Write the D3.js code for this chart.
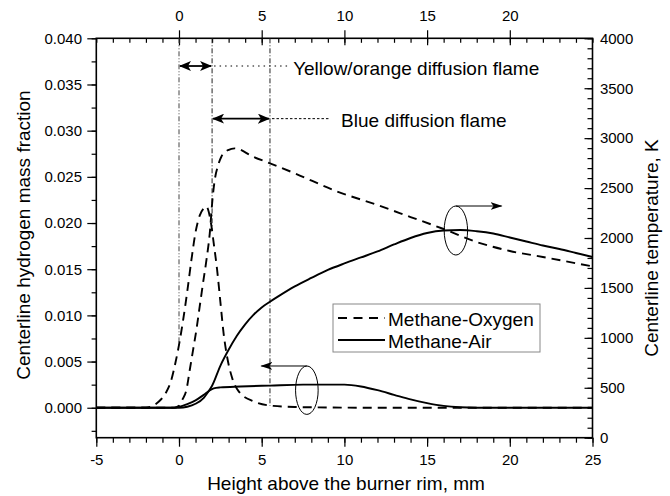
<!DOCTYPE html>
<html>
<head>
<meta charset="utf-8">
<script src="https://cdn.jsdelivr.net/npm/d3@7"></script>
<style>
  body { margin: 0; background: #fff; }
  svg text { font-family: "Liberation Sans", Arial, sans-serif; fill: #000; }
</style>
</head>
<body>
<svg id="chart" width="670" height="496"></svg>
<script>
// Methane-Oxygen, hydrogen mass fraction (left axis)
var xH2Oxy = [-5, -2, -1.6, -1.2, -0.8, -0.5, -0.2, 0, 0.25, 0.5, 0.75, 1.0, 1.25, 1.5, 1.65, 1.8, 1.95, 2.1, 2.3, 2.5, 2.7, 2.9, 3.2, 3.6, 4.5, 5.7, 7, 9, 12, 25];
var h2Oxy  = [0, 0, 0.0002, 0.0007, 0.0016, 0.0028, 0.0050, 0.0068, 0.0095, 0.0126, 0.0160, 0.0190, 0.0208, 0.0216, 0.0218, 0.0212, 0.0198, 0.0178, 0.0150, 0.0115, 0.0080, 0.0056, 0.0033, 0.0018, 0.0007, 0.0002, 0.00008, 0.00003, 0, 0];
// Methane-Oxygen, temperature (right axis, K)
var xTOxy = [-5, -0.3, 0, 0.2, 0.45, 0.65, 0.85, 1.05, 1.25, 1.45, 1.66, 1.86, 2.02, 2.16, 2.35, 2.56, 2.97, 3.37, 4.48, 5.5, 7, 9.5, 12, 14, 16, 18, 20, 22, 25];
var tOxy  = [300, 300, 320, 380, 480, 678, 878, 1079, 1312, 1546, 1780, 2047, 2380, 2580, 2720, 2814, 2881, 2898, 2814, 2748, 2648, 2470, 2330, 2210, 2090, 1960, 1870, 1810, 1715];
// Methane-Air, hydrogen mass fraction
var xH2Air = [-5, -0.5, 0, 0.5, 1, 1.5, 1.8, 2.1, 2.5, 3.7, 5.5, 7.5, 9, 10, 11, 12, 13, 14, 15, 16, 17, 18, 25];
var h2Air  = [0, 0, 0.0001, 0.0004, 0.0008, 0.0014, 0.0018, 0.0021, 0.0022, 0.0023, 0.0024, 0.0025, 0.0025, 0.0025, 0.0023, 0.0019, 0.0014, 0.0009, 0.0005, 0.0002, 0.00005, 0, 0];
// Methane-Air, temperature
var xTAir = [-5, 0, 0.5, 1, 1.5, 1.75, 2, 2.5, 3, 3.5, 4, 4.5, 5, 5.5, 6, 7, 8, 9, 10, 11, 12, 13, 14, 15, 16, 17, 18, 19, 20, 21, 22, 23, 24, 25];
var tAir  = [300, 300, 310, 340, 400, 455, 520, 720, 880, 1020, 1135, 1230, 1305, 1362, 1415, 1515, 1600, 1680, 1745, 1805, 1865, 1935, 2000, 2050, 2075, 2080, 2068, 2045, 2005, 1965, 1925, 1890, 1850, 1810];

var xTicks = [-5, 0, 5, 10, 15, 20, 25];
var xTopTicks = [0, 5, 10, 15, 20];
var h2Ticks = [0, 0.005, 0.01, 0.015, 0.02, 0.025, 0.03, 0.035, 0.04];
var tTicks = [0, 500, 1000, 1500, 2000, 2500, 3000, 3500, 4000];
var seriesNames = ["Methane-Oxygen", "Methane-Air"];

var svg = d3.select("#chart");
var pLeft = 96.3, pRight = 592.5, pTop = 38.3, pBottom = 437.7;

var x = d3.scaleLinear().domain([-5, 25]).range([pLeft, pRight]);
var yT = d3.scaleLinear().domain([0, 4000]).range([pBottom, pTop]);
// left axis: 0.000 lines up with 300 K
var yH = d3.scaleLinear().domain([-0.04 * 300 / 3700, 0.04]).range([pBottom, pTop]);

var defs = svg.append("defs");
defs.append("marker").attr("id", "headBig")
  .attr("markerUnits", "userSpaceOnUse")
  .attr("viewBox", "0 0 12 10").attr("refX", 11).attr("refY", 5)
  .attr("markerWidth", 12).attr("markerHeight", 10).attr("orient", "auto-start-reverse")
  .append("path").attr("d", "M0,0 L12,5 L0,10 L3,5 Z").attr("fill", "#000");
defs.append("marker").attr("id", "headSmall")
  .attr("markerUnits", "userSpaceOnUse")
  .attr("viewBox", "0 0 12 8").attr("refX", 11).attr("refY", 4)
  .attr("markerWidth", 12).attr("markerHeight", 8).attr("orient", "auto")
  .append("path").attr("d", "M0,0 L12,4 L0,8 L3,4 Z").attr("fill", "#000");

// axes
function styleAxis(g) {
  g.select(".domain").remove();
  g.selectAll("line").attr("stroke", "#000").attr("stroke-width", 1.2);
  g.selectAll("text").style("font-size", "15px").style("font-family", "'Liberation Sans', Arial, sans-serif");
}
var d1 = d3.range(-5, 26, 1);
svg.append("g").attr("transform", "translate(0," + pBottom + ")")
  .call(d3.axisBottom(x).tickValues(d1).tickSize(5).tickFormat(""))
  .call(styleAxis);
svg.append("g").attr("transform", "translate(0," + pBottom + ")")
  .call(d3.axisBottom(x).tickValues(xTicks).tickSize(9).tickPadding(7.5).tickFormat(function(d){ return String(d); }))
  .call(styleAxis);

svg.append("g").attr("transform", "translate(0," + pTop + ")")
  .call(d3.axisTop(x).tickValues(d1).tickSize(-4.5).tickFormat(""))
  .call(styleAxis);
var topMajor = svg.append("g").attr("transform", "translate(0," + pTop + ")")
  .call(d3.axisTop(x).tickValues(xTopTicks).tickSize(8).tickPadding(9.6).tickFormat(function(d){ return String(d); }))
  .call(styleAxis);
topMajor.selectAll("line").attr("y1", 7);

svg.append("g").attr("transform", "translate(" + pLeft + ",0)")
  .call(d3.axisLeft(yH).tickValues(d3.range(-0.0025, 0.0401, 0.0025)).tickSize(4.7).tickFormat(""))
  .call(styleAxis);
svg.append("g").attr("transform", "translate(" + pLeft + ",0)")
  .call(d3.axisLeft(yH).tickValues(h2Ticks).tickSize(9).tickPadding(5.3).tickFormat(d3.format(".3f")))
  .call(styleAxis);

svg.append("g").attr("transform", "translate(" + pRight + ",0)")
  .call(d3.axisRight(yT).tickValues(d3.range(0, 4001, 100)).tickSize(-5).tickFormat(""))
  .call(styleAxis);
svg.append("g").attr("transform", "translate(" + pRight + ",0)")
  .call(d3.axisRight(yT).tickValues(tTicks).tickSizeInner(-8).tickSizeOuter(0).tickPadding(7.4).tickFormat(d3.format("d")))
  .call(styleAxis);

svg.append("rect").attr("x", pLeft).attr("y", pTop)
  .attr("width", pRight - pLeft).attr("height", pBottom - pTop)
  .attr("fill", "none").attr("stroke", "#000").attr("stroke-width", 1.6);

// axis titles
svg.append("text").attr("x", 346).attr("y", 489.5)
  .attr("text-anchor", "middle").style("font-size", "19px")
  .text("Height above the burner rim, mm");
svg.append("text").attr("transform", "translate(30,235) rotate(-90)")
  .attr("text-anchor", "middle").style("font-size", "19px")
  .text("Centerline hydrogen mass fraction");
svg.append("text").attr("transform", "translate(658,248) rotate(-90)")
  .attr("text-anchor", "middle").style("font-size", "19px")
  .text("Centerline temperature, K");

// flame zone guide lines (drop down to the methane-oxygen H2 curve)
var vLineX = [0, 2, 5.5];
var vLineEnd = [0.0067, 0.0192, 0.0002];
vLineX.forEach(function(v, i) {
  svg.append("line")
    .attr("x1", x(v)).attr("x2", x(v))
    .attr("y1", pTop).attr("y2", yH(vLineEnd[i]))
    .attr("stroke", i == 0 ? "#444" : "#222").attr("stroke-width", 1)
    .attr("stroke-dasharray", i == 0 ? "5,2,1,2,1,2" : "5,2,1,2");
});

// double arrows + labels
var zoneFrom = [0, 2], zoneTo = [2, 5.5], zoneY = [0.037, 0.0313];
var zoneDotTo = [6.7, 9.1], zoneText = ["Yellow/orange diffusion flame", "Blue diffusion flame"];
var zoneTextX = [6.9, 9.8];
zoneFrom.forEach(function(v, i) {
  svg.append("line")
    .attr("x1", x(v) + 1).attr("x2", x(zoneTo[i]) - 1)
    .attr("y1", yH(zoneY[i])).attr("y2", yH(zoneY[i]))
    .attr("stroke", "#000").attr("stroke-width", 1.8)
    .attr("marker-start", "url(#headBig)").attr("marker-end", "url(#headBig)");
  svg.append("line")
    .attr("x1", x(zoneTo[i]) + 2).attr("x2", x(zoneDotTo[i]))
    .attr("y1", yH(zoneY[i])).attr("y2", yH(zoneY[i]))
    .attr("stroke", "#000").attr("stroke-width", 1)
    .attr("stroke-dasharray", i == 0 ? "1.5,4" : "2.5,2");
  svg.append("text").attr("x", x(zoneTextX[i])).attr("y", yH(zoneY[i]) + 8.5)
    .style("font-size", "19px").text(zoneText[i]);
});

// curves
var line = d3.line().curve(d3.curveMonotoneX);
function drawCurve(xs, ys, yScale, dashed) {
  var pts = xs.map(function(d, i) { return [x(d), yScale(ys[i])]; });
  svg.append("path").attr("d", line(pts))
    .attr("fill", "none").attr("stroke", "#000").attr("stroke-width", 1.9)
    .attr("stroke-dasharray", dashed ? "9,6" : null);
}
drawCurve(xH2Oxy, h2Oxy, yH, true);
drawCurve(xTOxy, tOxy, yT, true);
drawCurve(xH2Air, h2Air, yH, false);
drawCurve(xTAir, tAir, yT, false);

// ellipse markers with arrows
svg.append("ellipse").attr("cx", x(16.74)).attr("cy", yT(2075))
  .attr("rx", 11.7).attr("ry", 24.5).attr("fill", "none").attr("stroke", "#000").attr("stroke-width", 1);
svg.append("line").attr("x1", x(16.74)).attr("x2", x(19.5))
  .attr("y1", yT(2075) - 24.5).attr("y2", yT(2075) - 24.5)
  .attr("stroke", "#000").attr("stroke-width", 1).attr("marker-end", "url(#headSmall)");
svg.append("ellipse").attr("cx", x(7.73)).attr("cy", yH(0.0019))
  .attr("rx", 11.3).attr("ry", 24.2).attr("fill", "none").attr("stroke", "#000").attr("stroke-width", 1);
svg.append("line").attr("x1", x(7.73)).attr("x2", x(4.98))
  .attr("y1", yH(0.0019) - 24.2).attr("y2", yH(0.0019) - 24.2)
  .attr("stroke", "#000").attr("stroke-width", 1).attr("marker-end", "url(#headSmall)");

// legend
var lg = svg.append("g").attr("transform", "translate(333,304)");
lg.append("rect").attr("width", 207).attr("height", 48)
  .attr("fill", "#fff").attr("stroke", "#888").attr("stroke-width", 1);
seriesNames.forEach(function(name, i) {
  var yy = 14 + i * 22;
  lg.append("line").attr("x1", 5).attr("x2", 52).attr("y1", yy).attr("y2", yy)
    .attr("stroke", "#000").attr("stroke-width", 1.9)
    .attr("stroke-dasharray", i == 0 ? "9,6.5" : null);
  lg.append("text").attr("x", 55).attr("y", yy + 7.5).style("font-size", "19px").text(name);
});
</script>
</body>
</html>
